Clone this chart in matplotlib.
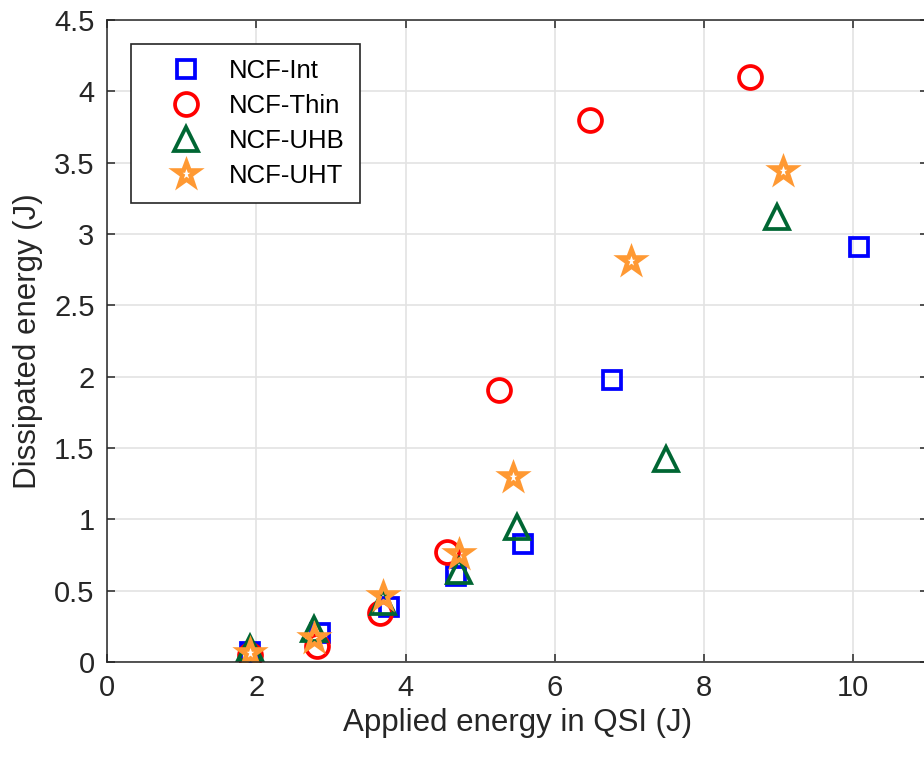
import matplotlib
matplotlib.use("Agg")
import matplotlib.pyplot as plt
from matplotlib.markers import MarkerStyle

plt.rcParams['font.family'] = ['Liberation Sans', 'DejaVu Sans']

# data
x_int = [1.91, 2.85, 3.78, 4.68, 5.58, 6.76, 10.08]
y_int = [0.07, 0.20, 0.385, 0.60, 0.83, 1.98, 2.91]

x_thin = [1.91, 2.82, 3.66, 4.56, 5.25, 6.47, 8.61]
y_thin = [0.05, 0.11, 0.34, 0.77, 1.905, 3.80, 4.10]

x_uhb = [1.91, 2.77, 3.70, 4.72, 5.49, 7.49, 8.98]
y_uhb = [0.10, 0.23, 0.42, 0.64, 0.945, 1.42, 3.12]

x_uht = [1.91, 2.77, 3.70, 4.72, 5.44, 7.02, 9.06]
y_uht = [0.06, 0.17, 0.46, 0.76, 1.30, 2.81, 3.44]

xticks = [0, 2, 4, 6, 8, 10]
yticks = [0, 0.5, 1, 1.5, 2, 2.5, 3, 3.5, 4, 4.5]
ytick_labels = ['0', '0.5', '1', '1.5', '2', '2.5', '3', '3.5', '4', '4.5']

fig = plt.figure(figsize=(9.24, 7.64), dpi=100)
ax = fig.add_axes([107/924, 102/764, 821/924, 642/764])

mew = 2.7
sq = MarkerStyle('s', joinstyle='miter')
tri = MarkerStyle('^', joinstyle='miter')
star = MarkerStyle('*', joinstyle='miter')
ax.plot(x_int, y_int, marker=sq, ls='none', ms=13, mfc='none', mec=(0, 0, 1), mew=mew,
        label='NCF-Int')
ax.plot(x_thin, y_thin, 'o', ls='none', ms=16.5, mfc='none', mec=(1, 0, 0), mew=mew,
        label='NCF-Thin')
ax.plot(x_uhb, y_uhb, marker=tri, ls='none', ms=17, mfc='none', mec=(0, 0.4, 0.2), mew=mew,
        label='NCF-UHB')
ax.plot(x_uht, y_uht, marker=star, ls='none', ms=17, mfc='none', mec=(1, 0.6, 0.2), mew=3.3,
        label='NCF-UHT')

ax.set_xlim(0, 11)
ax.set_ylim(0, 4.5)
ax.set_xticks(xticks)
ax.set_yticks(yticks)
ax.set_yticklabels(ytick_labels)
ax.grid(True, color='#e3e3e3', lw=1.2)
ax.set_axisbelow(True)

for s in ax.spines.values():
    s.set_color('#262626')
    s.set_linewidth(1.1)
ax.tick_params(direction='in', length=6, width=1.1, colors='#262626', labelsize=21,
               top=True, right=True, pad=9)

ax.set_xlabel('Applied energy in QSI (J)', fontsize=22.5, color='#262626', labelpad=4)
ax.set_ylabel('Dissipated energy (J)', fontsize=22.5, color='#262626', labelpad=8)

leg = ax.legend(loc='upper left', bbox_to_anchor=(0.029, 0.963), borderaxespad=0,
                fontsize=18.5, handlelength=3.1, handletextpad=0.1, borderpad=0.6,
                labelspacing=0.42, fancybox=False, framealpha=1, edgecolor='#262626')
leg.get_frame().set_linewidth(1.2)

fig.savefig('out.png', dpi=100)
